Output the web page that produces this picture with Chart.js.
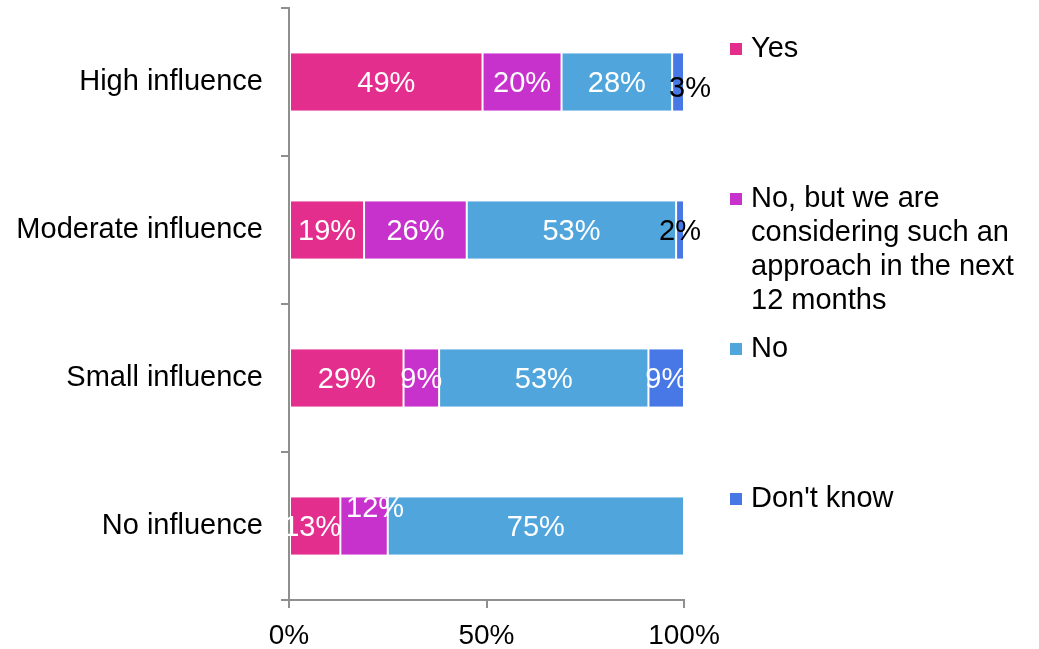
<!DOCTYPE html>
<html>
<head>
<meta charset="utf-8">
<script src="https://cdn.jsdelivr.net/npm/chart.js@4.4.1/dist/chart.umd.min.js"></script>
<style>
  html, body { margin: 0; padding: 0; background: #fff; }
  #wrap { width: 1039px; height: 649px; position: relative; }
</style>
</head>
<body>
<div id="wrap"><canvas id="influenceChart"></canvas></div>
<script>
// categories and answer shares (percent of respondents)
var categories = ['High influence', 'Moderate influence', 'Small influence', 'No influence'];
var seriesNames = ['Yes', 'No, but we are considering such an approach in the next 12 months', 'No', "Don't know"];
var yesValues = [49, 19, 29, 13];
var consideringValues = [20, 26, 9, 12];
var noValues = [28, 53, 53, 75];
var dontKnowValues = [3, 2, 9, 0];
var xTickLabels = ['0%', '50%', '100%'];

var colors = ['#e32e8e', '#c732cc', '#50a6dc', '#4877e6'];
var FONT = '"Liberation Sans", Arial, sans-serif';

Chart.defaults.font.family = FONT;
Chart.defaults.color = '#000';

// small shifts for a few labels that sit off-centre
var labelNudge = { '3-0': [12, 5], '1-3': [11, -19], '0-3': [-3, 0] };

var barLabels = {
  id: 'barLabels',
  afterDatasetsDraw: function(chart) {
    var ctx = chart.ctx;
    ctx.save();
    ctx.font = '29px ' + FONT;
    ctx.textAlign = 'center';
    ctx.textBaseline = 'middle';
    chart.data.datasets.forEach(function(ds, di) {
      var meta = chart.getDatasetMeta(di);
      meta.data.forEach(function(bar, i) {
        var v = ds.data[i];
        if (!v) return;
        var w = Math.abs(bar.x - bar.base);
        var nudge = labelNudge[di + '-' + i] || [0, 0];
        ctx.fillStyle = w < 20 ? '#000' : '#fff';
        ctx.fillText(v + '%', (bar.x + bar.base) / 2 + nudge[0], bar.y + 2 + nudge[1]);
      });
    });
    ctx.restore();
  }
};

// legend on the right, wrapped text with small square markers
var sideLegend = {
  id: 'sideLegend',
  afterDraw: function(chart) {
    var ctx = chart.ctx;
    ctx.save();
    ctx.font = '29px ' + FONT;
    ctx.textBaseline = 'middle';
    ctx.textAlign = 'left';
    var x = 730, textX = 751, maxW = 285, y0 = 49, step = 150, lineH = 34;
    chart.data.datasets.forEach(function(ds, di) {
      var words = ds.label.split(' ');
      var lines = [], line = '';
      words.forEach(function(wd) {
        var test = line ? line + ' ' + wd : wd;
        if (ctx.measureText(test).width > maxW && line) { lines.push(line); line = wd; }
        else line = test;
      });
      lines.push(line);
      var y = y0 + di * step;
      ctx.fillStyle = ds.backgroundColor;
      ctx.fillRect(x, y - 6, 12, 12);
      ctx.fillStyle = '#000';
      lines.forEach(function(l, li) { ctx.fillText(l, textX, y + li * lineH); });
    });
    ctx.restore();
  }
};

var seriesValues = [yesValues, consideringValues, noValues, dontKnowValues];
var datasets = seriesNames.map(function(name, i) {
  return {
    label: name,
    data: seriesValues[i],
    backgroundColor: colors[i],
    borderColor: '#fff',
    borderWidth: { left: 1, right: 1, top: 0, bottom: 0 },
    borderSkipped: false,
    categoryPercentage: 1,
    barPercentage: 0.39
  };
});

new Chart(document.getElementById('influenceChart'), {
  type: 'bar',
  data: { labels: categories, datasets: datasets },
  options: {
    indexAxis: 'y',
    responsive: true,
    maintainAspectRatio: false,
    animation: false,
    layout: { padding: { left: 0, right: 355, top: 8, bottom: 0 } },
    plugins: { legend: { display: false }, tooltip: { enabled: false } },
    scales: {
      x: {
        stacked: true,
        min: 0,
        max: 100,
        afterBuildTicks: function(axis) {
          axis.ticks = [{ value: 0 }, { value: 50 }, { value: 100 }];
        },
        afterFit: function(axis) { axis.height = 49; },
        ticks: {
          font: { size: 28 },
          padding: 11,
          maxRotation: 0,
          callback: function(v, i) { return xTickLabels[i]; }
        },
        grid: { drawOnChartArea: false, tickLength: 8, color: '#8f8f8f', lineWidth: 2 },
        border: { color: '#8f8f8f', width: 2 }
      },
      y: {
        stacked: true,
        afterFit: function(axis) {
          axis.width = 289;
          axis.paddingTop = 0;
          axis.paddingBottom = 0;
        },
        ticks: { font: { size: 29 }, padding: 18 },
        grid: { offset: true, drawOnChartArea: false, tickLength: 8, color: '#8f8f8f', lineWidth: 2 },
        border: { color: '#8f8f8f', width: 2 }
      }
    }
  },
  plugins: [barLabels, sideLegend]
});
</script>
</body>
</html>
